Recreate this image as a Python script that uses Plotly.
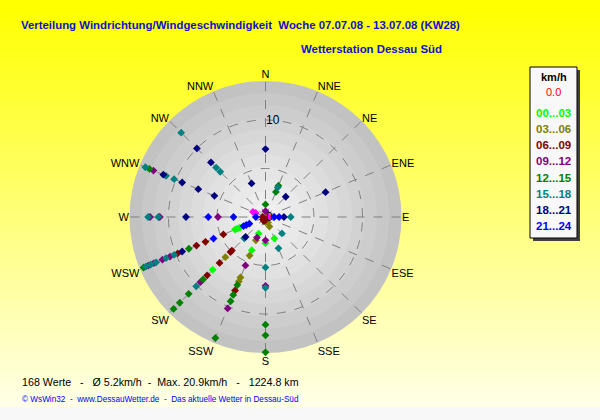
import plotly.graph_objects as go

# Windrichtungen (16 Sektoren)
richtungen = ['N', 'NNE', 'NE', 'ENE', 'E', 'ESE', 'SE', 'SSE',
              'S', 'SSW', 'SW', 'WSW', 'W', 'WNW', 'NW', 'NNW']

# Geschwindigkeitsklassen und Farben
klassen = ['00...03', '03...06', '06...09', '09...12', '12...15', '15...18', '18...21', '21...24']
farben = ['#00ff00', '#808000', '#800000', '#800080', '#008000', '#008080', '#000080', '#0000ff']

# Messpunkte je Klasse (Richtung, Radius)
k0_dir = ['WSW', 'WSW', 'WSW', 'SSW', 'SSW', 'SW', 'S', 'SSE']
k0_r = [2.85, 3.15, 3.4, 1.85, 3.7, 7.7, 2.7, 2.4]

k1_dir = ['SSE', 'SSW', 'SSW', 'SSW', 'SSW', 'SW', 'S', 'SSE']
k1_r = [1.07, 2.6, 4.3, 6.75, 7.2, 5.85, 0.5, 0.6]

k2_dir = ['SW', 'SW', 'SW', 'SW', 'WSW', 'WSW', 'WSW', 'WSW', 'SSW', 'SW', 'S', 'W', 'SSW']
k2_r = [4.9, 5.1, 6.7, 8.5, 4.7, 6.7, 7.7, 9.8, 8.2, 0.35, 0.3, 0.3, 0.45]

k3_dir = ['N', 'S', 'SSW', 'SSW', 'SSW', 'SW', 'WSW', 'WSW', 'WSW', 'WSW',
          'W', 'W', 'W', 'WNW', 'S']
k3_r = [0.6, 2.4, 2.3, 5.4, 10.2, 9.5, 10.65, 11.5, 12.45, 13.1,
        4.9, 10.9, 11.9, 12.5, 7.1]

k4_dir = ['N', 'NNE', 'NNE', 'S', 'S', 'S', 'SSW', 'SSW', 'SSW', 'SSW',
          'SW', 'SW', 'SW', 'SW', 'WSW', 'WSW', 'WNW']
k4_r = [1.3, 3.5, 2.8, 11.1, 12.2, 13.95, 7.6, 8.7, 9.4, 13.5,
        9.1, 11.2, 12.5, 13.4, 8.55, 13.6, 12.95]

k5_dir = ['NNE', 'E', 'SE', 'SSE', 'S', 'S', 'SW', 'SW', 'WSW', 'WSW', 'WSW',
          'WSW', 'WSW', 'W', 'W', 'WNW', 'WNW', 'WNW', 'NW', 'NW', 'NW']
k5_r = [3.3, 2.6, 2.4, 3.5, 5.2, 7.3, 3.1, 10.1, 10.2, 11.1, 12.2,
        12.8, 13.35, 11.05, 12.1, 10.2, 11.1, 13.4, 6.6, 7.2, 12.3]

k6_dir = ['N', 'NE', 'ENE', 'E', 'SW', 'WSW', 'W', 'WNW', 'WNW', 'WNW', 'WNW',
          'NW', 'NW', 'NNW']
k6_r = [7.0, 2.95, 6.7, 1.9, 2.9, 9.3, 8.2, 5.7, 7.5, 9.3, 11.4,
        7.95, 10.0, 3.75]

k7_dir = ['E', 'E', 'WSW', 'WSW', 'WSW', 'WSW', 'W', 'W', 'W']
k7_r = [0.9, 1.4, 1.8, 2.15, 2.45, 5.8, 1.0, 3.3, 5.9]

# Punkte ohne Legendeneintrag (magenta)
km_dir = ['WNW', 'WNW', 'E', 'SE']
km_r = [1.4, 1.1, 0.3, 0.2]

punkte_dir = [k0_dir, k1_dir, k2_dir, k3_dir, k4_dir, k5_dir, k6_dir, k7_dir]
punkte_r = [k0_r, k1_r, k2_r, k3_r, k4_r, k5_r, k6_r, k7_r]

# Achsenbeschriftung radial
r_ticks = [0, 5, 10]
r_ticktext = ['0', '', '10']

titel = 'Verteilung Windrichtung/Windgeschwindigkeit  Woche 07.07.08 - 13.07.08 (KW28)'
station = 'Wetterstation Dessau Süd'
statistik = '168 Werte   -   Ø 5.2km/h  -  Max. 20.9km/h   -   1224.8 km'
fusszeile = '© WsWin32  -  www.DessauWetter.de  -  Das aktuelle Wetter in Dessau-Süd'

W, H = 600, 420
cx, cy, R = 265.5, 217, 136

fig = go.Figure()

# Hintergrund: Verlauf gelb -> hellgelb
shapes = []
n = 41
for i in range(n):
    t = i / (n - 1)
    b = int(0 + 232 * t)
    y0 = 1 - (i * 10) / H
    y1 = 1 - min((i + 1) * 10, 407) / H
    shapes.append(dict(type='rect', xref='paper', yref='paper', x0=0, x1=1, y0=y1, y1=y0,
                       fillcolor=f'rgb(255,255,{b})', line_width=0, layer='below'))
shapes.append(dict(type='rect', xref='paper', yref='paper', x0=0, x1=1, y0=0, y1=1 - 407 / H,
                   fillcolor='#f8f8f8', line_width=0, layer='below'))

# Kreisscheibe mit Ringen
ring_frac = [1.0, 0.91, 0.82, 0.73, 0.64, 0.55, 0.46, 0.37, 0.28, 0.19, 0.10]
ring_grau = [194, 200, 205, 210, 215, 220, 225, 229, 233, 237, 241]
for f, g in zip(ring_frac, ring_grau):
    rr = R * f
    shapes.append(dict(type='circle', xref='paper', yref='paper',
                       x0=(cx - rr) / W, x1=(cx + rr) / W,
                       y0=1 - (cy + rr) / H, y1=1 - (cy - rr) / H,
                       fillcolor=f'rgb({g},{g},{g})', line_width=0, layer='below'))

# Legendenkasten mit Schatten
shapes.append(dict(type='rect', xref='paper', yref='paper', x0=533 / W, x1=580 / W,
                   y0=1 - 241 / H, y1=1 - 70 / H, fillcolor='#404040', line_width=0))
shapes.append(dict(type='rect', xref='paper', yref='paper', x0=530 / W, x1=577 / W,
                   y0=1 - 238 / H, y1=1 - 67 / H, fillcolor='#f8f8f8',
                   line=dict(color='black', width=1)))

fig.add_trace(go.Scatterpolar(
    r=km_r, theta=km_dir, mode='markers',
    marker=dict(symbol='diamond', size=6, color='#ff00ff'),
    showlegend=False, hoverinfo='skip'))

for name, col, d, r in zip(klassen, farben, punkte_dir, punkte_r):
    fig.add_trace(go.Scatterpolar(
        r=r, theta=d, mode='markers', name=name,
        marker=dict(symbol='diamond', size=6, color=col),
        showlegend=False))

annotations = [
    dict(text=f'<b>{titel}</b>', x=19 / W, y=1 - 25 / H, xanchor='left', yanchor='middle',
         font=dict(family='Arial', size=11.4, color='#1010d0')),
    dict(text=f'<b>{station}</b>', x=444 / W, y=1 - 49 / H, xanchor='right', yanchor='middle',
         font=dict(family='Arial', size=11.4, color='#1010d0')),
    dict(text=statistik, x=20 / W, y=1 - 382 / H, xanchor='left', yanchor='middle',
         font=dict(family='Arial', size=10.7, color='black')),
    dict(text=fusszeile, x=20 / W, y=1 - 399 / H, xanchor='left', yanchor='middle',
         font=dict(family='Arial', size=8.2, color='#0000ff')),
    dict(text='<b>km/h</b>', x=553.5 / W, y=1 - 77 / H, xanchor='center', yanchor='middle',
         font=dict(family='Arial', size=11, color='black')),
    dict(text='0.0', x=553.5 / W, y=1 - 92 / H, xanchor='center', yanchor='middle',
         font=dict(family='Arial', size=11, color='#ff0000')),
]
for i, (name, col) in enumerate(zip(klassen, farben)):
    annotations.append(dict(text=f'<b>{name}</b>', x=553.5 / W, y=1 - (113.3 + 16.06 * i) / H,
                            xanchor='center', yanchor='middle',
                            font=dict(family='Arial', size=11.5, color=col)))
for a in annotations:
    a.update(xref='paper', yref='paper', showarrow=False)

fig.update_layout(
    width=W, height=H,
    margin=dict(l=0, r=0, t=0, b=0),
    paper_bgcolor='#ffff00',
    plot_bgcolor='rgba(0,0,0,0)',
    shapes=shapes,
    annotations=annotations,
    polar=dict(
        domain=dict(x=[(cx - R) / W, (cx + R) / W], y=[1 - (cy + R) / H, 1 - (cy - R) / H]),
        bgcolor='rgba(0,0,0,0)',
        angularaxis=dict(
            type='category', categoryarray=richtungen,
            direction='clockwise', rotation=90,
            showline=False, ticks='',
            showgrid=True, gridcolor='#808080', gridwidth=1, griddash='dash',
            tickfont=dict(family='Arial', size=11, color='black'),
        ),
        radialaxis=dict(
            range=[0, 14.02], angle=90, tickangle=90,
            showline=False, ticks='',
            tickvals=r_ticks, ticktext=r_ticktext,
            showgrid=True, gridcolor='#808080', gridwidth=1, griddash='dash',
            tickfont=dict(family='Arial', size=12, color='black'),
        ),
    ),
)

# Seitenrand des Browsers entfernen, damit die Grafik bei 0,0 beginnt
fig.write_html('out.html', config={'displayModeBar': False},
               post_script="document.body.style.margin='0';")
